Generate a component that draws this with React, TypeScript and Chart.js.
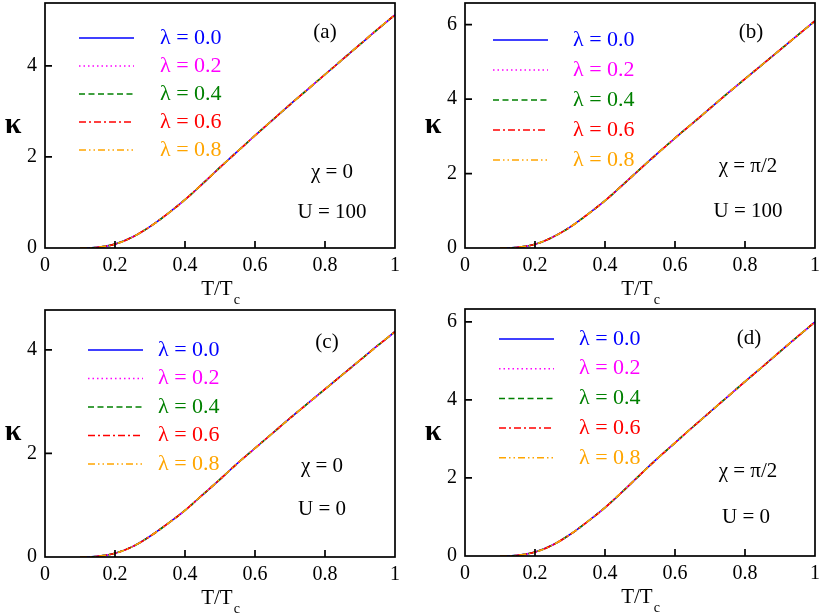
import { useEffect, useRef } from "react"
import { Chart, registerables } from "chart.js"

Chart.register(...registerables)

// T/Tc sample points shared by every curve
const temps = [0.1, 0.12, 0.15, 0.2, 0.25, 0.3, 0.35, 0.4, 0.45, 0.5, 0.55, 0.6, 0.65, 0.7, 0.75, 0.8, 0.85, 0.9, 0.95, 1.0]

// kappa; the five lambda curves lie on top of each other
const kappaA = [0, 0, 0.015, 0.085, 0.24, 0.47, 0.75, 1.06, 1.41, 1.77, 2.12, 2.47, 2.81, 3.15, 3.48, 3.81, 4.14, 4.47, 4.8, 5.12]
const kappaB = [0, 0, 0.018, 0.1, 0.29, 0.56, 0.9, 1.27, 1.69, 2.12, 2.54, 2.95, 3.35, 3.75, 4.15, 4.54, 4.93, 5.32, 5.71, 6.1]
const kappaC = [0, 0, 0.013, 0.072, 0.2, 0.4, 0.64, 0.9, 1.2, 1.5, 1.81, 2.1, 2.39, 2.68, 2.96, 3.24, 3.52, 3.8, 4.08, 4.35]
const kappaD = [0, 0, 0.018, 0.1, 0.28, 0.55, 0.88, 1.24, 1.65, 2.08, 2.5, 2.9, 3.3, 3.69, 4.08, 4.47, 4.85, 5.24, 5.62, 6.0]

const lambdaLabels = ["0.0", "0.2", "0.4", "0.6", "0.8"]
const xTicks = [0, 0.2, 0.4, 0.6, 0.8, 1]
const yTicks = [0, 2, 4, 6]

const seriesColors = ["#0000ff", "#ff00ff", "#008000", "#ff0000", "#ffa500"]
const seriesDashes = [[], [1.5, 3], [6, 3.5], [7, 3, 2, 3], [7, 3, 1.5, 3, 1.5, 3]]

const PANEL_W = 411
const PANEL_H = 307
const SERIF = "'Liberation Serif', 'Times New Roman', serif"

type PanelDef = {
  tag: string
  kappa: number[]
  yMax: number
  chi: string
  u: string
  left: number
  top: number
  plot: { l: number; r: number; t: number; b: number }
  legend: { x0: number; x1: number; tx: number; y0: number; dy: number }
  tagAt: [number, number]
  chiAt: [number, number]
  uAt: [number, number]
}

const panels: PanelDef[] = [
  {
    tag: "(a)", kappa: kappaA, yMax: 5.38, chi: "0", u: "100", left: 0, top: 0,
    plot: { l: 45, r: 395, t: 3, b: 248 },
    legend: { x0: 79, x1: 134, tx: 160, y0: 38, dy: 28 },
    tagAt: [325, 32], chiAt: [332, 172], uAt: [332, 212],
  },
  {
    tag: "(b)", kappa: kappaB, yMax: 6.58, chi: "\u03c0/2", u: "100", left: 411, top: 0,
    plot: { l: 54, r: 404, t: 3, b: 248 },
    legend: { x0: 82, x1: 137, tx: 162, y0: 40, dy: 30 },
    tagAt: [340, 32], chiAt: [337, 166], uAt: [337, 211],
  },
  {
    tag: "(c)", kappa: kappaC, yMax: 4.77, chi: "0", u: "0", left: 0, top: 307,
    plot: { l: 45, r: 395, t: 3, b: 250 },
    legend: { x0: 88, x1: 143, tx: 158, y0: 43, dy: 28.5 },
    tagAt: [327, 35], chiAt: [322, 159], uAt: [322, 202],
  },
  {
    tag: "(d)", kappa: kappaD, yMax: 6.33, chi: "\u03c0/2", u: "0", left: 411, top: 307,
    plot: { l: 54, r: 404, t: 2, b: 249 },
    legend: { x0: 88, x1: 143, tx: 168, y0: 32, dy: 29.7 },
    tagAt: [338, 31], chiAt: [337, 164], uAt: [335, 210],
  },
]

const decor = {
  id: "decor",
  afterDatasetsDraw(chart: any, _args: any, opts: any) {
    const p: PanelDef = opts.panel
    const { ctx, chartArea: a, scales } = chart
    ctx.save()

    // frame and inward ticks
    ctx.strokeStyle = "#000"
    ctx.lineWidth = 1.7
    ctx.setLineDash([])
    ctx.strokeRect(a.left, a.top, a.right - a.left, a.bottom - a.top)
    ctx.beginPath()
    for (const v of xTicks) {
      if (v <= 0 || v >= 1) continue
      const x = scales.x.getPixelForValue(v)
      ctx.moveTo(x, a.bottom)
      ctx.lineTo(x, a.bottom - 7)
    }
    for (const v of yTicks) {
      if (v <= 0 || v >= p.yMax) continue
      const y = scales.y.getPixelForValue(v)
      ctx.moveTo(a.left, y)
      ctx.lineTo(a.left + 7, y)
    }
    ctx.stroke()

    // legend
    ctx.textBaseline = "middle"
    ctx.textAlign = "left"
    ctx.font = `22px ${SERIF}`
    lambdaLabels.forEach((lab, i) => {
      const y = p.legend.y0 + i * p.legend.dy
      ctx.strokeStyle = seriesColors[i]
      ctx.lineWidth = 1.5
      ctx.setLineDash(seriesDashes[i])
      ctx.beginPath()
      ctx.moveTo(p.legend.x0, y)
      ctx.lineTo(p.legend.x1, y)
      ctx.stroke()
      ctx.fillStyle = seriesColors[i]
      ctx.fillText(`\u03bb = ${lab}`, p.legend.tx, y)
    })
    ctx.setLineDash([])

    // annotations
    ctx.fillStyle = "#000"
    ctx.textAlign = "center"
    ctx.font = `21px ${SERIF}`
    ctx.fillText(p.tag, p.tagAt[0], p.tagAt[1])
    ctx.fillText(`\u03c7 = ${p.chi}`, p.chiAt[0], p.chiAt[1])
    ctx.fillText(`U = ${p.u}`, p.uAt[0], p.uAt[1])

    // axis titles
    ctx.font = `bold 30px ${SERIF}`
    ctx.fillText("\u03ba", a.left - 32, 125)

    ctx.textAlign = "left"
    ctx.textBaseline = "alphabetic"
    ctx.font = `21px ${SERIF}`
    const main = "T/T"
    const wMain = ctx.measureText(main).width
    ctx.font = `14px ${SERIF}`
    const wSub = ctx.measureText("c").width
    const cx = (a.left + a.right) / 2
    const x0 = cx - (wMain + wSub) / 2
    ctx.font = `21px ${SERIF}`
    ctx.fillText(main, x0, a.bottom + 47)
    ctx.font = `14px ${SERIF}`
    ctx.fillText("c", x0 + wMain + 1, a.bottom + 56)

    ctx.restore()
  },
}

function Panel({ p }: { p: PanelDef }) {
  const chartRef = useRef<HTMLCanvasElement>(null)
  const chartInstance = useRef<Chart | null>(null)

  useEffect(() => {
    if (!chartRef.current) return
    if (chartInstance.current) chartInstance.current.destroy()
    const ctx = chartRef.current.getContext("2d")
    if (!ctx) return

    chartInstance.current = new Chart(ctx, {
      type: "line",
      data: {
        datasets: lambdaLabels.map((lab, i) => ({
          label: `\u03bb = ${lab}`,
          data: temps.map((t, k) => ({ x: t, y: p.kappa[k] })),
          borderColor: seriesColors[i],
          borderDash: seriesDashes[i],
          borderWidth: 1.6,
          pointRadius: 0,
          fill: false,
          // later lambda drawn on top, as in the original
          order: lambdaLabels.length - i,
          tension: 0.35,
        })),
      },
      options: {
        responsive: true,
        maintainAspectRatio: false,
        animation: false,
        layout: { padding: { top: p.plot.t, right: PANEL_W - p.plot.r, left: 0, bottom: 0 } },
        plugins: {
          legend: { display: false },
          tooltip: { enabled: false },
          decor: { panel: p },
        } as any,
        scales: {
          x: {
            type: "linear",
            min: 0,
            max: 1,
            grid: { display: false },
            border: { display: false },
            afterFit: (s: any) => {
              s.height = PANEL_H - p.plot.b
              s.paddingLeft = 0
              s.paddingRight = 0
            },
            ticks: {
              stepSize: 0.2,
              padding: -2,
              color: "#000",
              font: { family: SERIF, size: 20 },
              maxRotation: 0,
              callback: (v: any) => (v === 0 || v === 1 ? String(v) : Number(v).toFixed(1)),
            },
          },
          y: {
            type: "linear",
            min: 0,
            max: p.yMax,
            grid: { display: false },
            border: { display: false },
            afterFit: (s: any) => {
              s.width = p.plot.l
              s.paddingTop = 0
              s.paddingBottom = 0
            },
            ticks: {
              stepSize: 2,
              includeBounds: false,
              padding: 0,
              color: "#000",
              font: { family: SERIF, size: 20 },
              callback: (v: any) => String(v),
            },
          },
        },
      },
      plugins: [decor],
    })

    return () => {
      if (chartInstance.current) {
        chartInstance.current.destroy()
        chartInstance.current = null
      }
    }
  }, [p])

  return (
    <div style={{ position: "absolute", left: p.left, top: p.top, width: PANEL_W, height: PANEL_H }}>
      <canvas ref={chartRef} />
    </div>
  )
}

export default function App() {
  return (
    <div style={{ position: "absolute", left: 0, top: 0, width: 822, height: 614, background: "#fff" }}>
      {panels.map((p) => (
        <Panel key={p.tag} p={p} />
      ))}
    </div>
  )
}
